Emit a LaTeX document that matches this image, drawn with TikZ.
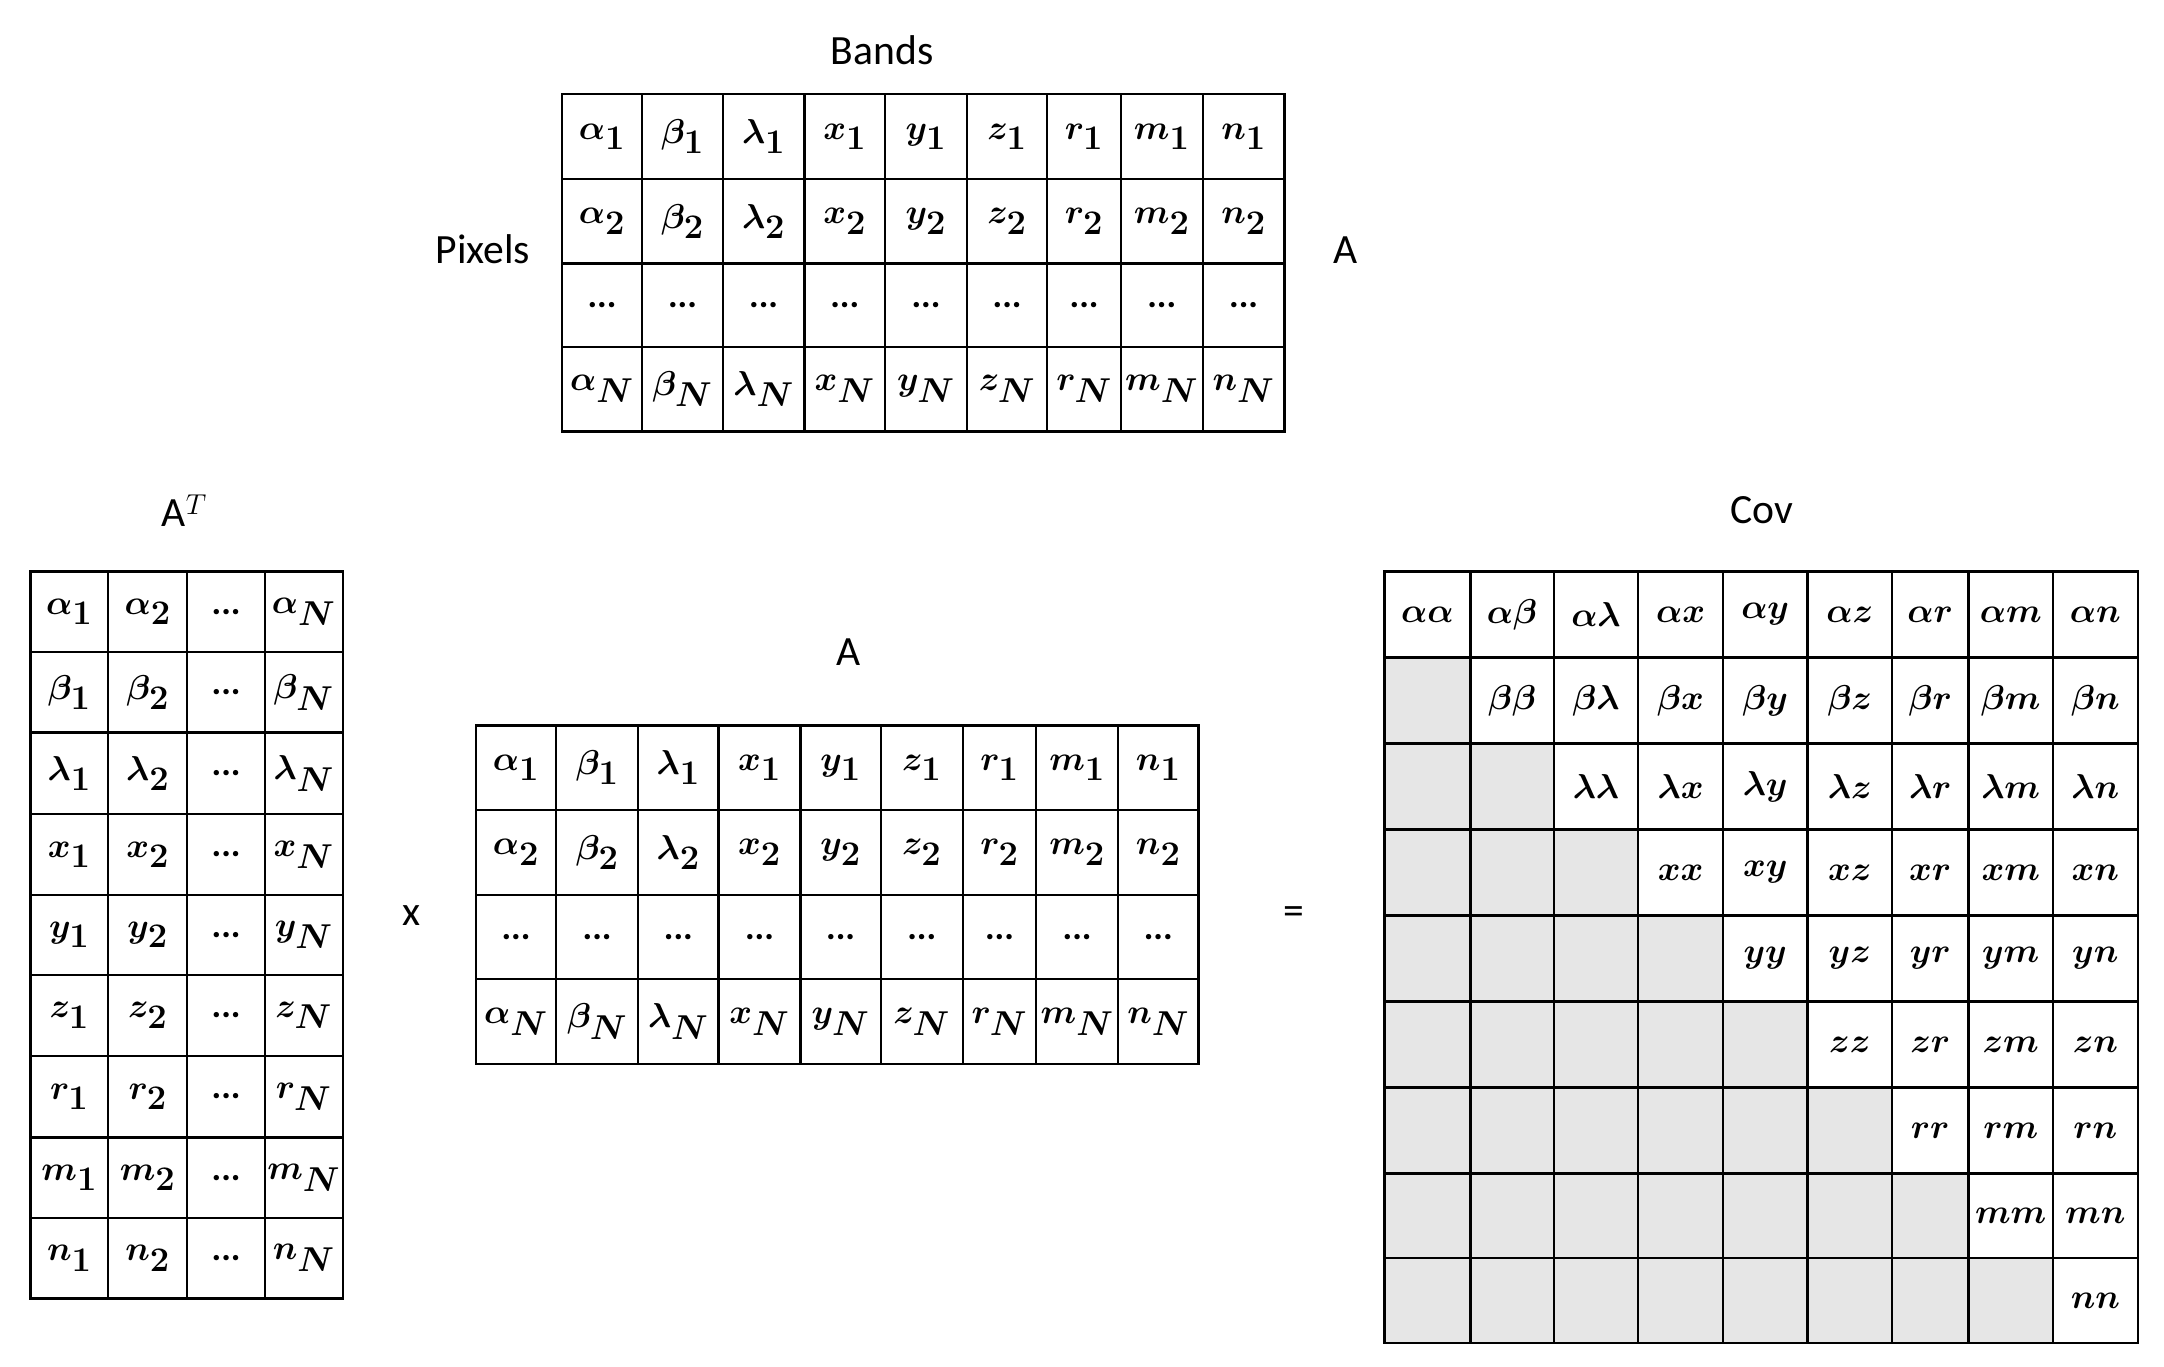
\documentclass[tikz,border=0pt]{standalone}
\usepackage{bm}
\usepackage{fontspec}
\setmainfont{Carlito}
\definecolor{cellgray}{HTML}{E6E6E6}
\begin{document}
\begin{tikzpicture}[x=1pt,y=-1pt,
  lbl/.style={font=\fontsize{30}{32}\selectfont},
  cell/.style={font=\fontsize{36}{38}\selectfont,inner sep=0pt},
  grid/.style={line width=1.6pt}]
\useasboundingbox (0,0) rectangle (1560,985);
\def\syms{{"\alpha","\beta","\lambda","x","y","z","r","m","n"}}
\newcommand{\matA}[3]{%
  \foreach \c [count=\i from 0] in {#1}{\expandafter\xdef\csname #3x\i\endcsname{\c}}
  \foreach \r [count=\j from 0] in {#2}{\expandafter\xdef\csname #3y\j\endcsname{\r}}
}
\matA{405,463,521,580,638,697,755,808,867,926}{68,129,190,250,311}{t}
\matA{343,401,460,518,577,635,694,747,806,864}{523,584,645,706,767}{m}
\foreach \p in {t,m}{
 \foreach \i in {0,...,8}{
  \pgfmathtruncatemacro{\ii}{\i+1}
  \pgfmathsetmacro{\xa}{\csname \p x\i\endcsname}
  \pgfmathsetmacro{\xb}{\csname \p x\ii\endcsname}
  \pgfmathsetmacro{\s}{\syms[\i]}
  \foreach \j/\sub/\dd in {0/1/0,1/2/0,2/1/1,3/N/0}{
   \pgfmathtruncatemacro{\jj}{\j+1}
   \pgfmathsetmacro{\ya}{\csname \p y\j\endcsname}
   \pgfmathsetmacro{\yb}{\csname \p y\jj\endcsname}
   \draw[grid] (\xa,\ya) rectangle (\xb,\yb);
   \ifnum\dd=1
     \node[cell,font=\fontsize{26}{28}\selectfont] (\p c\i\j) at ({(\xa+\xb)/2},{(\ya+\yb)/2}) {\textbf{...}};
   \else
     \node[cell] (\p c\i\j) at ({(\xa+\xb)/2},{(\ya+\yb)/2}) {$\bm{\s_{\sub}}$};
   \fi
  }
 }
}
\matA{22,78,135,191,247}{412,470,528,587,645,703,761,820,878,936}{a}
\foreach \j in {0,...,8}{
 \pgfmathtruncatemacro{\jj}{\j+1}
 \pgfmathsetmacro{\ya}{\csname ay\j\endcsname}
 \pgfmathsetmacro{\yb}{\csname ay\jj\endcsname}
 \pgfmathsetmacro{\s}{\syms[\j]}
 \foreach \i/\sub/\dd in {0/1/0,1/2/0,2/1/1,3/N/0}{
  \pgfmathtruncatemacro{\ii}{\i+1}
  \pgfmathsetmacro{\xa}{\csname ax\i\endcsname}
  \pgfmathsetmacro{\xb}{\csname ax\ii\endcsname}
  \draw[grid] (\xa,\ya) rectangle (\xb,\yb);
  \ifnum\dd=1
    \node[cell,font=\fontsize{26}{28}\selectfont] (ac\i\j) at ({(\xa+\xb)/2},{(\ya+\yb)/2}) {\textbf{...}};
  \else
    \node[cell] (ac\i\j) at ({(\xa+\xb)/2},{(\ya+\yb)/2}) {$\bm{\s_{\sub}}$};
  \fi
 }
}
\matA{998,1060,1120,1181,1242,1303,1364,1419,1480,1541}{412,474,536,598,660,722,784,846,907,968}{c}
\foreach \j in {0,...,8}{
 \pgfmathtruncatemacro{\jj}{\j+1}
 \pgfmathsetmacro{\ya}{\csname cy\j\endcsname}
 \pgfmathsetmacro{\yb}{\csname cy\jj\endcsname}
 \pgfmathsetmacro{\s}{\syms[\j]}
 \foreach \i in {0,...,8}{
  \pgfmathtruncatemacro{\ii}{\i+1}
  \pgfmathsetmacro{\xa}{\csname cx\i\endcsname}
  \pgfmathsetmacro{\xb}{\csname cx\ii\endcsname}
  \pgfmathsetmacro{\t}{\syms[\i]}
  \ifnum\i<\j
    \draw[grid,fill=cellgray] (\xa,\ya) rectangle (\xb,\yb);
  \else
    \draw[grid] (\xa,\ya) rectangle (\xb,\yb);
    \node[cell] (cc\i\j) at ({(\xa+\xb)/2},{(\ya+\yb)/2}) {$\bm{\s\t}$};
  \fi
 }
}
\node[lbl] (bands) at (636,36) {Bands};
\node[lbl] (pixels) at (348,180) {Pixels};
\node[lbl] (atop) at (970,180) {A};
\node[lbl] (at) at (133,368) {A$^{T}$};
\node[lbl] (amid) at (612,470) {A};
\node[lbl] (cov) at (1270,368) {Cov};
\node[lbl] (times) at (297,660) {x};
\node[lbl] (eq) at (933,660) {=};
\end{tikzpicture}
\end{document}
